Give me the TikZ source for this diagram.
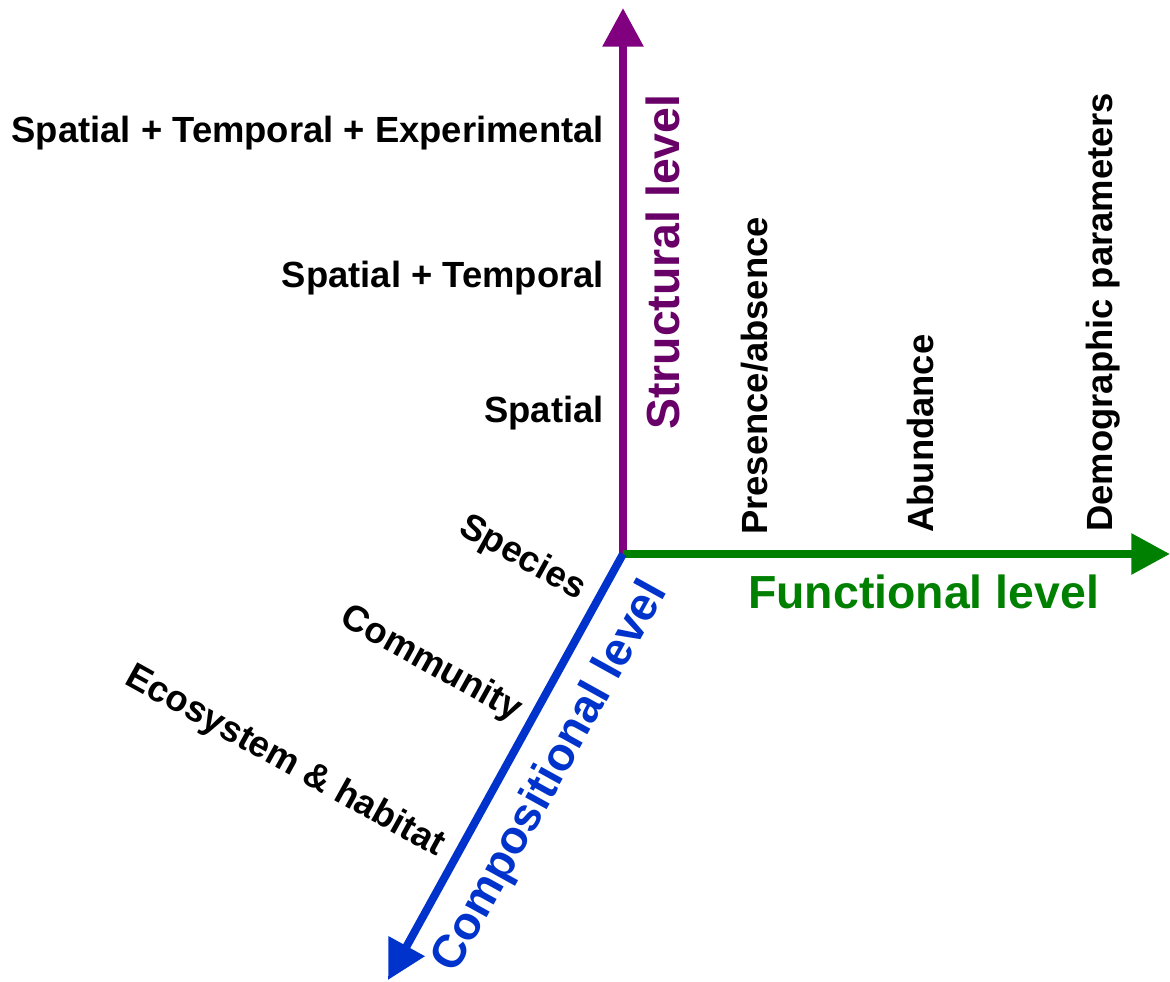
\documentclass[tikz,border=0pt]{standalone}
\usepackage{fontspec}
\setmainfont{Liberation Sans}
\usetikzlibrary{arrows.meta}
\definecolor{structc}{HTML}{800080}
\definecolor{structt}{HTML}{680068}
\definecolor{funcc}{HTML}{008000}
\definecolor{compc}{HTML}{0033CC}
\begin{document}
\begin{tikzpicture}[x=0.75pt,y=-0.75pt,
  axis/.style={line width=6pt,
    -{Triangle[length=29pt,width=29.5pt]}},
  lbl/.style={inner sep=0pt,font=\bfseries\fontsize{27.3}{30}\selectfont},
  ttl/.style={inner sep=0pt,font=\bfseries\fontsize{34.8}{38}\selectfont}]
\useasboundingbox (0,0) rectangle (1170,981);
% axes
\coordinate (o) at (623,554);
\coordinate (up) at (623,8);
\coordinate (right) at (1170,554);
\coordinate (down) at (388,980);
\draw[axis,structc] (o) -- (up);
\draw[axis,funcc] (o) -- (right);
\draw[axis,compc,line cap=butt] (o) -- (down);
% structural level
\node[ttl,structt,rotate=90,anchor=base west] (st) at (679,430) {Structural level};
\node[lbl,anchor=base east] (s3) at (604,142) {Spatial + Temporal + Experimental};
\node[lbl,anchor=base east] (s2) at (604,287) {Spatial + Temporal};
\node[lbl,anchor=base east] (s1) at (604,422) {Spatial};
% functional level
\node[ttl,funcc,anchor=base west] (ft) at (748,608) {Functional level};
\node[lbl,rotate=90,anchor=base west] (f1) at (767,535) {Presence/absence};
\node[lbl,rotate=90,anchor=base west] (f2) at (933,533) {Abundance};
\node[lbl,rotate=90,anchor=base west] (f3) at (1112,532) {Demographic parameters};
% compositional level
\node[ttl,compc,rotate=61,anchor=base west] (ct) at (455,975) {Compositional level};
\node[lbl,rotate=-29,anchor=base east] (c1) at (578,600) {Species};
\node[lbl,rotate=-29,anchor=base east] (c2) at (514,721) {Community};
\node[lbl,rotate=-29,anchor=base east] (c3) at (437,857) {Ecosystem \& habitat};
\end{tikzpicture}
\end{document}
